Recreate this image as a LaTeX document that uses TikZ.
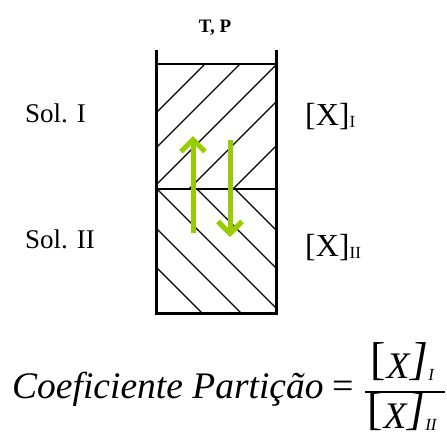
\documentclass[tikz,border=0pt]{standalone}
\usepackage{fontspec}
\setmainfont{Liberation Serif}
\usetikzlibrary{arrows.meta, positioning}
\definecolor{flowgreen}{HTML}{99CC00}
\newcommand{\subidx}[1]{\raisebox{-2pt}{\fontsize{17}{17}\selectfont #1}}
\newcommand{\bigbr}[1]{\raisebox{4pt}{\fontsize{46}{46}\selectfont #1}}

\begin{document}
\begin{tikzpicture}[
    x=1pt, y=-1pt,
    wall/.style={line width=3pt},
    sep/.style={line width=1.2pt},
    hatch/.style={line width=1.1pt},
    flow/.style={flowgreen, line width=5pt, -{Straight Barb[length=12pt, width=24pt]}},
    lbl/.style={font=\fontsize{27}{27}\selectfont, inner sep=0pt, anchor=base west},
    conc/.style={font=\fontsize{32}{32}\selectfont, inner sep=0pt, anchor=base west},
    eq/.style={font=\fontsize{37.5}{37.5}\selectfont\itshape, inner sep=0pt, anchor=base west}
]
    \useasboundingbox (0,0) rectangle (447,432);

    % the cell
    \coordinate (tl) at (156.7,64);
    \coordinate (ml) at (156.7,189);
    \coordinate (bl) at (156.7,313);
    \coordinate (tr) at (276.7,64);
    \coordinate (mr) at (276.7,189);
    \coordinate (br) at (276.7,313);

    \begin{scope}
        \clip (tl) rectangle (mr);
        \foreach \c in {269,304,341,378,422}
            \draw[hatch] (\c-40,40) -- (\c-220,220);
    \end{scope}
    \begin{scope}
        \clip (ml) rectangle (br);
        \foreach \d in {-46,-8,32,72,111}
            \draw[hatch] (140,140+\d) -- (300,300+\d);
    \end{scope}

    \draw[sep] (tl) -- (tr);
    \draw[sep] (ml) -- (mr);
    \draw[wall] (156.7,50) -- (bl) -- (br) -- (276.7,50);

    % exchange between the two phases
    \coordinate (up0) at (193,233);
    \coordinate (up1) at (193,136);
    \coordinate (dn0) at (230,140);
    \coordinate (dn1) at (230,237);
    \draw[flow] (up0) -- (up1);
    \draw[flow] (dn0) -- (dn1);

    % labels
    \node[font=\fontsize{19}{19}\selectfont\bfseries, inner sep=0pt, anchor=base] (tp) at (215,32) {T, P};
    \node[lbl] (sol1) at (25,122) {Sol. I};
    \node[lbl] (sol2) at (25,248) {Sol. II};
    \node[conc] (conc1) at (305,125) {[X]\subidx{I}};
    \node[conc] (conc2) at (305,256) {[X]\subidx{II}};

    % partition coefficient
    \node[eq] (name) at (12,398) {Coeficiente Partição};
    \node[font=\fontsize{38}{38}\selectfont, inner sep=0pt, anchor=base] (equal) at (343,398) {=};
    \coordinate (bar0) at (365,392);
    \coordinate (bar1) at (445,392);
    \draw[line width=1.2pt] (bar0) -- (bar1);
    \node[eq] (num) at (370,378) {\upshape\bigbr{[}\kern1pt\itshape X\kern1pt\bigbr{]}\subidx{\itshape I}};
    \node[eq] (den) at (367,428) {\upshape\bigbr{[}\kern1pt\itshape X\kern1pt\bigbr{]}\subidx{\itshape II}};
\end{tikzpicture}
\end{document}
